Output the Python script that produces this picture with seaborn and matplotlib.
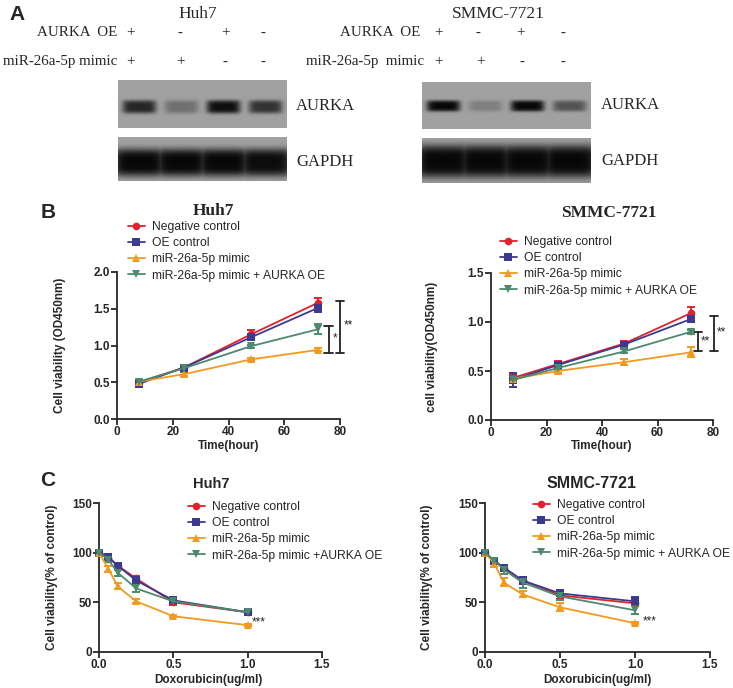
import numpy as np
import pandas as pd
import matplotlib
matplotlib.use("Agg")
import matplotlib.pyplot as plt
import seaborn as sns

# ---------------- data ---------------- #

groups = ["Negative control", "OE control", "miR-26a-5p mimic", "miR-26a-5p mimic + AURKA OE"]
groups_c_left = ["Negative control", "OE control", "miR-26a-5p mimic", "miR-26a-5p mimic +AURKA OE"]

# western blot lanes (band darkness, 0..1)
lanes_oe = ["+", "-", "+", "-"]
lanes_mimic = ["+", "+", "-", "-"]
huh7_aurka = [0.80, 0.32, 0.95, 0.72]
huh7_gapdh = [1.0, 1.0, 1.0, 0.97]
smmc_aurka = [1.0, 0.22, 1.0, 0.50]
smmc_gapdh = [1.0, 1.0, 1.0, 1.0]

# panel B: CCK-8 time course
hours = [8, 24, 48, 72]
huh7_b_mean = [
    [0.50, 0.70, 1.15, 1.58],
    [0.48, 0.70, 1.11, 1.51],
    [0.51, 0.61, 0.81, 0.94],
    [0.51, 0.69, 0.99, 1.22],
]
huh7_b_err = [
    [0.02, 0.03, 0.06, 0.06],
    [0.02, 0.03, 0.03, 0.05],
    [0.02, 0.03, 0.02, 0.02],
    [0.02, 0.05, 0.02, 0.07],
]
smmc_b_mean = [
    [0.43, 0.57, 0.78, 1.09],
    [0.41, 0.56, 0.77, 1.03],
    [0.42, 0.50, 0.59, 0.69],
    [0.41, 0.53, 0.70, 0.90],
]
smmc_b_err = [
    [0.03, 0.03, 0.03, 0.06],
    [0.07, 0.03, 0.03, 0.02],
    [0.02, 0.02, 0.03, 0.05],
    [0.03, 0.02, 0.02, 0.02],
]

# panel C: doxorubicin dose response
doses = [0, 0.0625, 0.125, 0.25, 0.5, 1.0]
huh7_c_mean = [
    [100, 95, 87, 74, 50, 40],
    [100, 96, 87, 72, 52, 40],
    [100, 84, 66, 51, 36, 27],
    [100, 93, 80, 64, 51, 40],
]
huh7_c_err = [
    [1, 2, 2, 3, 3, 2],
    [1, 2, 3, 4, 2, 2],
    [1, 3, 3, 2, 1, 1],
    [1, 2, 3, 4, 2, 2],
]
smmc_c_mean = [
    [100, 91, 85, 72, 57, 49],
    [100, 92, 85, 72, 59, 51],
    [100, 89, 70, 58, 45, 29],
    [100, 92, 83, 70, 56, 42],
]
smmc_c_err = [
    [1, 2, 3, 4, 4, 3],
    [1, 2, 3, 4, 3, 4],
    [1, 3, 4, 3, 4, 1],
    [1, 3, 4, 6, 4, 4],
]

colors = ["#e3202b", "#3c3a8e", "#f29a1f", "#4b8a6c"]
markers = ["o", "s", "^", "v"]

# ---------------- style ---------------- #

sns.set_style("ticks")
plt.rcParams["font.family"] = ["Liberation Sans", "DejaVu Sans"]
plt.rcParams["axes.linewidth"] = 1.3

W, H = 733, 688
fig = plt.figure(figsize=(W / 100, H / 100), dpi=100)
fig.patch.set_facecolor("white")


def add_ax(x0, y0, x1, y1):
    return fig.add_axes([x0 / W, 1 - y1 / H, (x1 - x0) / W, (y1 - y0) / H])


def ftext(x, y, s, **kw):
    kw.setdefault("ha", "center")
    kw.setdefault("va", "center")
    fig.text(x / W, 1 - y / H, s, **kw)


serif = ["Liberation Serif", "DejaVu Serif"]

# ---------------- panel A: blots ---------------- #

def blot(x0, y0, x1, y1, darkness, center, half, lane_w):
    ax = add_ax(x0, y0, x1, y1)
    nx, ny = 200, 60
    xs = np.linspace(0, 1, nx)
    ys = np.linspace(0, 1, ny)
    dark = np.zeros((ny, nx))
    for i, d in enumerate(darkness):
        cx = (i + 0.5) / 4
        lane = np.exp(-((xs - cx) / lane_w) ** 6)
        band = np.exp(-((ys - center) / half) ** 4)
        dark = np.maximum(dark, d * np.outer(band, lane))
    img = 0.63 - 0.6 * dark
    ax.imshow(img, cmap="gray", vmin=0, vmax=1, aspect="auto", interpolation="bilinear")
    ax.set_xticks([])
    ax.set_yticks([])
    for s in ax.spines.values():
        s.set_visible(False)


blot(118, 80, 287, 128, huh7_aurka, 0.56, 0.14, 0.10)
blot(118, 137, 287, 181, huh7_gapdh, 0.58, 0.32, 0.16)
blot(422, 82, 590, 129, smmc_aurka, 0.51, 0.12, 0.10)
blot(422, 138, 590, 183, smmc_gapdh, 0.53, 0.36, 0.17)

ftext(17, 14, "A", fontsize=15, fontweight="bold")
ftext(198, 14, "Huh7", family=serif, fontsize=12.5)
ftext(498, 14, "SMMC-7721", family=serif, fontsize=12.5)
ftext(117, 33, "AURKA  OE", family=serif, fontsize=10.8, ha="right")
ftext(117, 62, "miR-26a-5p mimic", family=serif, fontsize=10.8, ha="right")
ftext(420, 33, "AURKA  OE", family=serif, fontsize=10.8, ha="right")
ftext(424, 62, "miR-26a-5p  mimic", family=serif, fontsize=10.8, ha="right")
for xp, a in zip([130, 180, 225, 263], lanes_oe):
    ftext(xp, 33, a, family=serif, fontsize=10.8)
for xp, a in zip([438, 478, 520, 563], lanes_oe):
    ftext(xp, 33, a, family=serif, fontsize=10.8)
for xp, a in zip([130, 180, 225, 263], lanes_mimic):
    ftext(xp, 62, a, family=serif, fontsize=10.8)
for xp, a in zip([438, 480, 522, 563], lanes_mimic):
    ftext(xp, 62, a, family=serif, fontsize=10.8)
ftext(296, 106, "AURKA", family=serif, fontsize=12, ha="left")
ftext(296, 162, "GAPDH", family=serif, fontsize=12, ha="left")
ftext(601, 105, "AURKA", family=serif, fontsize=12, ha="left")
ftext(601, 161, "GAPDH", family=serif, fontsize=12, ha="left")

# ---------------- curves ---------------- #

def curves(ax, x, means, errs, names):
    rows = []
    for g, m in zip(names, means):
        for xi, yi in zip(x, m):
            rows.append({"x": xi, "y": yi, "group": g})
    df = pd.DataFrame(rows)
    for c, m, e in zip(colors, means, errs):
        ax.errorbar(x, m, yerr=e, fmt="none", ecolor=c, elinewidth=1.4,
                    capsize=3, capthick=1.4, clip_on=False, zorder=2)
    sns.lineplot(data=df, x="x", y="y", hue="group", style="group",
                 hue_order=names, style_order=names,
                 palette=dict(zip(names, colors)), markers=dict(zip(names, markers)),
                 dashes=False, linewidth=1.3, markersize=5.5, markeredgewidth=0,
                 ax=ax, clip_on=False, zorder=3)
    sns.despine(ax=ax)
    ax.tick_params(direction="out", length=4, width=1.3, labelsize=8.5, pad=1)
    for lab in ax.get_xticklabels() + ax.get_yticklabels():
        lab.set_fontweight("bold")
    ax.set_xlabel("")
    ax.set_ylabel("")
    ax.set_facecolor("none")


def legend(ax, x, y):
    h, l = ax.get_legend_handles_labels()
    ax.legend(h, l, loc="upper left", bbox_to_anchor=(x / W, 1 - y / H),
              bbox_transform=fig.transFigure, frameon=False, fontsize=8.7,
              handlelength=1.4, handletextpad=0.6, labelspacing=0.35,
              borderpad=0, borderaxespad=0)


def bracket(ax, x, y0, y1, w, s, tx, ty):
    ax.plot([x, x], [y0, y1], color="#222222", lw=1.3, clip_on=False)
    ax.plot([x - w, x + w], [y0, y0], color="#222222", lw=1.3, clip_on=False)
    ax.plot([x - w, x + w], [y1, y1], color="#222222", lw=1.3, clip_on=False)
    ax.text(tx, ty, s, fontsize=8.5, ha="left", va="center")


# panel B left
ax = add_ax(117, 272, 340, 419)
curves(ax, hours, huh7_b_mean, huh7_b_err, groups)
ax.set_xlim(0, 80)
ax.set_ylim(0, 2.0)
ax.set_xticks([0, 20, 40, 60, 80])
ax.set_yticks([0, 0.5, 1.0, 1.5, 2.0])
ax.set_yticklabels(["0.0", "0.5", "1.0", "1.5", "2.0"])
for lab in ax.get_yticklabels():
    lab.set_fontweight("bold")
legend(ax, 128, 221)
bracket(ax, 76.0, 0.90, 1.27, 1.6, "*", 77.5, 1.09)
bracket(ax, 80.0, 0.90, 1.61, 1.6, "**", 81.5, 1.27)

# panel B right
ax = add_ax(491, 273, 713, 420)
curves(ax, hours, smmc_b_mean, smmc_b_err, groups)
ax.set_xlim(0, 80)
ax.set_ylim(0, 1.5)
ax.set_xticks([0, 20, 40, 60, 80])
ax.set_yticks([0, 0.5, 1.0, 1.5])
ax.set_yticklabels(["0.0", "0.5", "1.0", "1.5"])
for lab in ax.get_yticklabels():
    lab.set_fontweight("bold")
legend(ax, 500, 236)
bracket(ax, 74.6, 0.70, 0.90, 1.4, "**", 75.6, 0.80)
bracket(ax, 80.4, 0.70, 1.06, 1.4, "**", 81.4, 0.89)

# panel C left
ax = add_ax(99, 503, 322, 652)
curves(ax, doses, huh7_c_mean, huh7_c_err, groups_c_left)
ax.set_xlim(0, 1.5)
ax.set_ylim(0, 150)
ax.set_xticks([0, 0.5, 1.0, 1.5])
ax.set_xticklabels(["0.0", "0.5", "1.0", "1.5"])
ax.set_yticks([0, 50, 100, 150])
for lab in ax.get_xticklabels():
    lab.set_fontweight("bold")
legend(ax, 188, 501)
ax.text(1.03, 30, "***", fontsize=8.5, ha="left", va="center")

# panel C right
ax = add_ax(485, 503, 710, 652)
curves(ax, doses, smmc_c_mean, smmc_c_err, groups)
ax.set_xlim(0, 1.5)
ax.set_ylim(0, 150)
ax.set_xticks([0, 0.5, 1.0, 1.5])
ax.set_xticklabels(["0.0", "0.5", "1.0", "1.5"])
ax.set_yticks([0, 50, 100, 150])
for lab in ax.get_xticklabels():
    lab.set_fontweight("bold")
legend(ax, 533, 499)
ax.text(1.05, 31, "***", fontsize=8.5, ha="left", va="center")

# ---------------- labels ---------------- #

ftext(48, 213, "B", fontsize=15, fontweight="bold")
ftext(48, 481, "C", fontsize=15, fontweight="bold")
ftext(213, 211, "Huh7", family=serif, fontsize=12.5, fontweight="bold")
ftext(609, 213, "SMMC-7721", family=serif, fontsize=12.5, fontweight="bold")
ftext(211, 484, "Huh7", fontsize=10.5, fontweight="bold")
ftext(592, 484, "SMMC-7721", fontsize=11.5, fontweight="bold")

ftext(60, 345, "Cell viability (OD450nm)", fontsize=8.5, fontweight="bold", rotation=90)
ftext(432, 347, "cell viability(OD450nm)", fontsize=8.5, fontweight="bold", rotation=90)
ftext(52, 577, "Cell viability(% of control)", fontsize=8.5, fontweight="bold", rotation=90)
ftext(427, 577, "Cell viability(% of control)", fontsize=8.5, fontweight="bold", rotation=90)
ftext(229, 446, "Time(hour)", fontsize=8.5, fontweight="bold")
ftext(602, 446, "Time(hour)", fontsize=8.5, fontweight="bold")
ftext(208, 680, "Doxorubicin(ug/ml)", fontsize=8.5, fontweight="bold")
ftext(597, 680, "Doxorubicin(ug/ml)", fontsize=8.5, fontweight="bold")

fig.savefig("out.png", dpi=100)
